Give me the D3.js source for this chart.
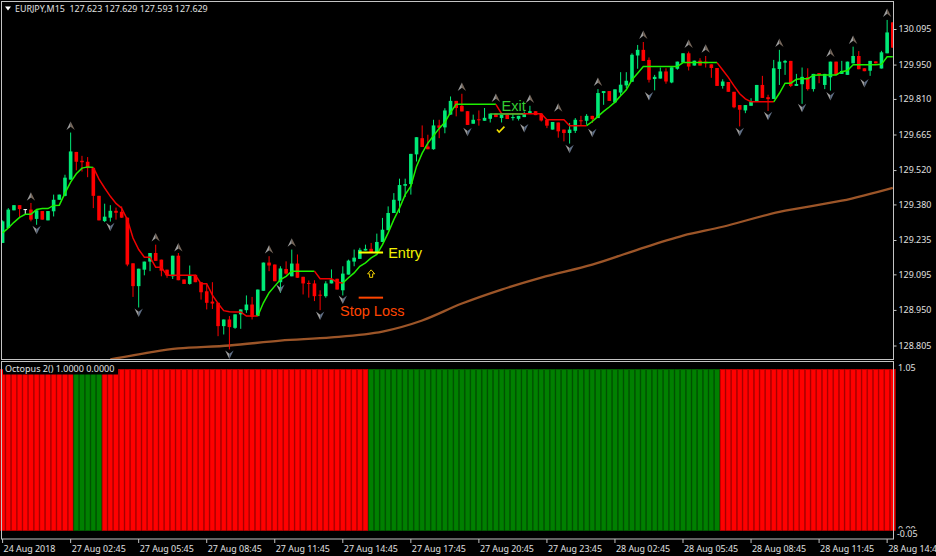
<!DOCTYPE html>
<html>
<head>
	<script src="https://d3js.org/d3.v7.min.js"></script>
	<style>
		html, body { margin: 0; padding: 0; background: #000; overflow: hidden; }
		text { font-family: "Noto Sans", sans-serif; white-space: pre; }
		.note { font-family: "Liberation Sans", sans-serif; }
	</style>
</head>
<body>
	<div class="CHANGE"></div>
	<script>
		var w = 936, h = 556;

		var opens = [129.223,129.284,129.356,129.377,129.361,129.359,129.321,129.353,129.315,129.352,129.399,129.415,129.481,129.594,129.558,129.554,129.528,129.415,129.312,129.326,
			129.354,129.350,129.326,129.140,129.047,129.114,129.147,129.182,129.155,129.114,129.087,129.171,129.074,129.056,129.093,129.063,129.026,128.984,128.979,128.884,
			128.911,128.877,128.932,128.949,128.972,128.925,129.028,129.143,129.135,129.063,129.117,129.087,129.139,129.085,129.060,129.058,129.012,129.006,129.058,129.077,
			129.030,129.094,129.147,129.158,129.192,129.199,129.182,129.227,129.275,129.345,129.395,129.456,129.463,129.584,129.650,129.616,129.605,129.702,129.694,129.746,
			129.802,129.782,129.760,129.709,129.727,129.721,129.729,129.750,129.732,129.746,129.733,129.729,129.736,129.750,129.760,129.750,129.725,129.685,129.714,129.685,
			129.671,129.680,129.723,129.721,129.741,129.732,129.834,129.842,129.796,129.836,129.865,129.880,129.987,130.010,129.969,129.891,129.893,129.922,129.877,129.933,
			129.958,129.996,129.946,129.966,129.962,129.951,129.936,129.863,129.879,129.839,129.785,129.763,129.782,129.801,129.867,129.817,129.810,129.932,129.958,129.965,
			129.863,129.870,129.898,129.850,129.915,129.867,129.898,129.962,129.912,129.908,129.955,129.985,129.935,129.925,129.963,129.934,129.996,130.122];
		var highs = [129.315,129.365,129.377,129.377,129.361,129.386,129.356,129.353,129.353,129.420,129.420,129.501,129.673,129.594,129.578,129.573,129.528,129.415,129.383,129.377,
			129.367,129.372,129.326,129.140,129.118,129.147,129.182,129.216,129.155,129.114,129.171,129.182,129.074,129.131,129.093,129.063,129.053,129.063,128.979,128.911,
			128.925,128.932,128.952,129.009,129.003,129.033,129.143,129.169,129.135,129.128,129.148,129.196,129.176,129.085,129.070,129.071,129.030,129.067,129.115,129.077,
			129.128,129.155,129.196,129.203,129.216,129.223,129.261,129.325,129.372,129.426,129.485,129.485,129.586,129.654,129.702,129.664,129.725,129.725,129.772,129.820,
			129.802,129.831,129.760,129.746,129.763,129.773,129.750,129.750,129.746,129.746,129.750,129.741,129.759,129.782,129.760,129.750,129.725,129.716,129.714,129.685,
			129.712,129.732,129.741,129.748,129.741,129.850,129.842,129.842,129.849,129.919,129.919,129.996,130.030,130.042,129.979,129.908,129.938,129.935,129.939,129.962,
			129.996,130.003,129.966,129.976,129.985,129.951,129.936,129.890,129.879,129.839,129.785,129.785,129.813,129.867,129.904,129.827,129.969,130.010,129.969,129.965,
			129.912,129.938,129.935,129.912,129.915,129.912,129.962,129.962,129.965,129.962,130.023,130.005,129.935,129.965,129.963,130.006,130.132,130.122];
		var lows = [129.223,129.284,129.356,129.329,129.338,129.311,129.297,129.318,129.315,129.331,129.399,129.413,129.481,129.519,129.514,129.491,129.365,129.315,129.308,129.310,
			129.318,129.325,129.128,129.003,128.960,129.091,129.108,129.150,129.087,129.081,129.076,129.071,129.056,129.053,129.063,128.992,128.952,128.954,128.843,128.850,
			128.789,128.873,128.873,128.938,128.911,128.925,129.028,129.108,129.067,129.020,129.094,129.087,129.081,129.013,129.000,128.986,128.949,129.000,129.058,129.033,
			129.009,129.094,129.128,129.158,129.192,129.182,129.182,129.227,129.275,129.345,129.345,129.410,129.420,129.555,129.614,129.605,129.603,129.650,129.670,129.746,
			129.739,129.759,129.704,129.709,129.701,129.721,129.714,129.736,129.714,129.728,129.722,129.722,129.736,129.750,129.744,129.718,129.691,129.685,129.652,129.637,
			129.628,129.671,129.701,129.705,129.712,129.732,129.786,129.802,129.793,129.823,129.854,129.880,129.933,129.965,129.877,129.845,129.893,129.872,129.874,129.929,
			129.958,129.926,129.946,129.946,129.938,129.896,129.863,129.852,129.839,129.772,129.698,129.752,129.782,129.801,129.814,129.761,129.810,129.867,129.908,129.858,
			129.863,129.790,129.844,129.840,129.874,129.850,129.844,129.908,129.912,129.908,129.955,129.931,129.923,129.904,129.955,129.934,129.996,130.019];
		var closes = [129.311,129.359,129.377,129.361,129.361,129.318,129.356,129.318,129.353,129.399,129.420,129.489,129.596,129.554,129.552,129.528,129.415,129.315,129.330,129.354,
			129.346,129.326,129.135,129.047,129.118,129.147,129.182,129.150,129.110,129.091,129.171,129.071,129.056,129.091,129.063,129.022,128.979,128.976,128.884,128.911,
			128.880,128.932,128.952,128.972,128.922,129.033,129.143,129.131,129.067,129.119,129.098,129.139,129.081,129.058,129.059,129.006,129.009,129.058,129.074,129.033,
			129.098,129.151,129.163,129.195,129.199,129.182,129.227,129.277,129.345,129.399,129.459,129.463,129.586,129.654,129.614,129.605,129.702,129.692,129.763,129.802,
			129.773,129.759,129.704,129.725,129.725,129.733,129.750,129.736,129.746,129.728,129.736,129.741,129.750,129.760,129.744,129.722,129.701,129.716,129.678,129.671,
			129.685,129.725,129.720,129.741,129.728,129.834,129.842,129.802,129.849,129.868,129.884,129.990,130.010,129.965,129.888,129.900,129.922,129.881,129.939,129.962,
			129.996,129.942,129.966,129.946,129.955,129.936,129.863,129.881,129.839,129.776,129.766,129.785,129.798,129.867,129.814,129.809,129.935,129.962,129.965,129.863,
			129.871,129.900,129.850,129.912,129.907,129.912,129.962,129.908,129.924,129.962,129.985,129.931,129.923,129.965,129.955,130.000,130.081,130.019];

		// trailing line, one value per bar
		var trendLine = [129.264,129.284,129.307,129.327,129.340,129.340,129.359,129.363,129.363,129.376,129.377,129.426,129.471,129.505,129.528,129.533,129.531,129.483,129.447,129.413,
			129.384,129.365,129.318,129.243,129.196,129.165,129.165,129.124,129.124,129.091,129.091,129.091,129.091,129.091,129.091,129.057,129.057,129.010,128.976,128.947,
			128.943,128.942,128.942,128.925,128.925,128.925,128.979,129.020,129.047,129.074,129.087,129.108,129.108,129.108,129.108,129.108,129.077,129.077,129.077,129.063,
			129.060,129.081,129.101,129.128,129.142,129.162,129.176,129.216,129.264,129.318,129.365,129.420,129.454,129.535,129.589,129.630,129.660,129.690,129.715,129.755,
			129.788,129.788,129.788,129.788,129.788,129.788,129.788,129.788,129.750,129.750,129.750,129.750,129.750,129.750,129.750,129.750,129.725,129.725,129.725,129.725,
			129.701,129.701,129.701,129.701,129.718,129.739,129.759,129.777,129.797,129.823,129.847,129.888,129.915,129.942,129.942,129.942,129.942,129.942,129.942,129.942,
			129.958,129.958,129.958,129.958,129.958,129.958,129.958,129.928,129.898,129.863,129.831,129.810,129.798,129.798,129.798,129.798,129.798,129.833,129.874,129.874,
			129.890,129.892,129.892,129.907,129.908,129.908,129.908,129.908,129.921,129.926,129.949,129.949,129.949,129.949,129.949,129.951,129.982,129.982];
		var trendStarts = [0,16,45,55,60,87,103,126,136];
		var trendColors = ["#1eef00","#f00000","#1eef00","#f00000","#1eef00","#f00000","#1eef00","#f00000","#1eef00"];

		// slow moving average
		var maBars = [19,26,31,40,49,58,67,74,81,88,95,104,111,120,127,137,148,157];
		var maValues = [128.748,128.777,128.793,128.805,128.825,128.838,128.862,128.907,128.976,129.033,129.082,129.135,129.188,129.253,129.289,129.350,129.395,129.448];

		// fractal arrows
		var upBars = [5,12,27,31,47,51,81,87,93,98,105,113,121,124,137,146,150,156];
		var upPrices = [129.411,129.700,129.245,129.204,129.196,129.224,129.859,129.814,129.810,129.774,129.879,130.071,130.034,130.014,130.038,129.997,130.050,130.160];
		var downBars = [6,19,24,40,49,56,60,82,92,100,104,114,130,135,141,146,152];
		var downPrices = [129.277,129.289,128.939,128.768,129.037,128.927,128.992,129.676,129.692,129.607,129.672,129.822,129.676,129.741,129.774,129.822,129.875];

		// Octopus histogram: runs of bars per state
		var histRuns = [13,5,47,62,31];
		var histRunColors = ["#ff0000","#008000","#ff0000","#008000","#ff0000"];
		var histRunEdges = ["#c40000","#006000","#c40000","#006000","#c40000"];

		var priceTicks = [130.095,129.950,129.810,129.665,129.520,129.380,129.235,129.095,128.950,128.805];
		var timeTickBars = [0,12,24,36,48,60,72,84,96,108,120,132,144,156];
		var timeLabels = ["24 Aug 2018","27 Aug 02:45","27 Aug 05:45","27 Aug 08:45","27 Aug 11:45","27 Aug 14:45","27 Aug 17:45","27 Aug 20:45","27 Aug 23:45","28 Aug 02:45","28 Aug 05:45","28 Aug 08:45","28 Aug 11:45","28 Aug 14:45"];

		var svg = d3.select(".CHANGE")
			.append("svg")
			.attr("width", w)
			.attr("height", h)
			.style("display", "block")
			.style("background", "#000");

		var x = d3.scaleLinear().domain([0, 157]).range([2.6, 892.8]);
		var y = d3.scaleLinear().domain([128.805, 130.095]).range([345.5, 29]);
		var yHist = d3.scaleLinear().domain([-0.05, 1.05]).range([538.5, 361.4]);

		var defs = svg.append("defs");
		defs.append("clipPath").attr("id", "mainClip").append("rect")
			.attr("x", 2).attr("y", 2).attr("width", 891).attr("height", 357);

		var main = svg.append("g").attr("clip-path", "url(#mainClip)");

		// slow MA goes under everything
		main.append("path")
			.datum(maBars)
			.attr("fill", "none")
			.attr("stroke", "#9c5528")
			.attr("stroke-width", 2.3)
			.attr("d", d3.line().curve(d3.curveCatmullRom).x(function(d) { return x(d); }).y(function(d, i) { return y(maValues[i]); }));

		var bars = d3.range(opens.length);
		var candleColor = function(i) {
			if (closes[i] === opens[i] || i === 4) return "#ffffff";
			return closes[i] > opens[i] ? "#00ea78" : "#ff0000";
		};

		main.selectAll("line.wick")
			.data(bars)
			.enter()
			.append("line")
			.attr("class", "wick")
			.attr("x1", function(i) { return x(i); })
			.attr("x2", function(i) { return x(i); })
			.attr("y1", function(i) { return y(highs[i]); })
			.attr("y2", function(i) { return y(lows[i]); })
			.attr("stroke", candleColor)
			.attr("stroke-width", 1);

		main.selectAll("rect.body")
			.data(bars)
			.enter()
			.append("rect")
			.attr("class", "body")
			.attr("x", function(i) { return x(i) - 1.8; })
			.attr("width", 3.6)
			.attr("y", function(i) { return y(Math.max(opens[i], closes[i])); })
			.attr("height", function(i) { return Math.max(1, Math.abs(y(opens[i]) - y(closes[i]))); })
			.attr("fill", candleColor);

		// trailing line, one path per colour run
		var trendPath = d3.line().x(function(d) { return x(d); }).y(function(d) { return y(trendLine[d]); });
		trendStarts.forEach(function(start, k) {
			var end = k + 1 < trendStarts.length ? trendStarts[k + 1] : trendLine.length - 1;
			main.append("path")
				.datum(d3.range(start, end + 1))
				.attr("fill", "none")
				.attr("stroke", trendColors[k])
				.attr("stroke-width", 1.5)
				.attr("d", trendPath);
		});

		// fractal arrows, two halves with a deep notch
		function arrow(sel, dir, leftCol, rightCol) {
			sel.append("path").attr("d", "M0," + (-4.5 * dir) + "L-4.2," + (4 * dir) + "L0," + (0.8 * dir) + "Z").attr("fill", leftCol);
			sel.append("path").attr("d", "M0," + (-4.5 * dir) + "L4.2," + (4 * dir) + "L0," + (0.8 * dir) + "Z").attr("fill", rightCol);
		}
		main.selectAll("g.up")
			.data(upBars)
			.enter()
			.append("g")
			.attr("class", "up")
			.attr("transform", function(d, i) { return "translate(" + x(d) + "," + y(upPrices[i]) + ")"; })
			.call(arrow, 1, "#9c9c9c", "#76675b");
		main.selectAll("g.down")
			.data(downBars)
			.enter()
			.append("g")
			.attr("class", "down")
			.attr("transform", function(d, i) { return "translate(" + x(d) + "," + y(downPrices[i]) + ")"; })
			.call(arrow, -1, "#9c9c9c", "#5f6e85");

		// annotations
		var entryBars = [62.8, 67.1], entryPrice = 129.184;
		var stopPrice = 129.000;
		var exitBars = [86, 91.8], exitPrice = 129.749;

		main.append("line").attr("x1", x(entryBars[0])).attr("x2", x(entryBars[1]))
			.attr("y1", y(entryPrice)).attr("y2", y(entryPrice))
			.attr("stroke", "#ffff00").attr("stroke-width", 2);
		main.append("text").attr("class", "note").attr("x", x(68)).attr("y", y(entryPrice) + 5)
			.attr("fill", "#f2f200").attr("font-size", 14.5).text("Entry");
		main.append("line").attr("x1", x(entryBars[0])).attr("x2", x(entryBars[1]))
			.attr("y1", y(stopPrice)).attr("y2", y(stopPrice))
			.attr("stroke", "#ff4500").attr("stroke-width", 2);
		main.append("text").attr("class", "note").attr("x", x(59.5)).attr("y", y(stopPrice) + 18)
			.attr("fill", "#ff4500").attr("font-size", 14.5).text("Stop Loss");
		main.append("line").attr("x1", x(exitBars[0])).attr("x2", x(exitBars[1]))
			.attr("y1", y(exitPrice)).attr("y2", y(exitPrice))
			.attr("stroke", "#32cd32").attr("stroke-width", 1.5);
		main.append("text").attr("class", "note").attr("x", x(88)).attr("y", y(exitPrice) - 2.5)
			.attr("fill", "#32cd32").attr("font-size", 14.5).text("Exit");

		// small outlined arrow and tick mark
		main.append("path")
			.attr("transform", "translate(" + x(65) + "," + y(129.097) + ")")
			.attr("d", "M0,-4L3.5,0L1.5,0L1.5,3.5L-1.5,3.5L-1.5,0L-3.5,0Z")
			.attr("fill", "none").attr("stroke", "#f2d000").attr("stroke-width", 1);
		main.append("path")
			.attr("transform", "translate(" + x(87.8) + "," + y(129.685) + ")")
			.attr("d", "M-3.5,0L-1.3,2.5L4,-3")
			.attr("fill", "none").attr("stroke", "#f2e000").attr("stroke-width", 1.6);

		// histogram pane
		var histColors = [], histEdges = [];
		histRuns.forEach(function(n, k) {
			for (var j = 0; j < n; j++) {
				histColors.push(histRunColors[k]);
				histEdges.push(histRunEdges[k]);
			}
		});
		svg.selectAll("rect.hist")
			.data(histColors)
			.enter()
			.append("rect")
			.attr("class", "hist")
			.attr("x", function(d, i) { return x(i) - 2.45; })
			.attr("width", 4.9)
			.attr("y", yHist(1))
			.attr("height", yHist(0) - yHist(1))
			.attr("fill", function(d) { return d; })
			.attr("stroke", function(d, i) { return histEdges[i]; })
			.attr("stroke-width", 0.8);

		svg.append("rect").attr("x", 3).attr("y", 362.5).attr("width", 115).attr("height", 12).attr("fill", "#000");
		svg.append("text").attr("x", 5).attr("y", 372).attr("fill", "#e0e0e0").attr("font-size", 9)
			.text("Octopus 2() 1.0000 0.0000");

		// chart header
		svg.append("path").attr("d", "M5,6.5L11,6.5L8,10.5Z").attr("fill", "#fff");
		svg.append("text").attr("x", 15).attr("y", 12).attr("fill", "#e0e0e0").attr("font-size", 8.9)
			.text("EURJPY,M15  127.623 127.629 127.593 127.629");

		// frames
		var frameColor = "#c4c4c4";
		svg.append("rect").attr("x", 1.5).attr("y", 1.5).attr("width", 892).attr("height", 358)
			.attr("fill", "none").attr("stroke", frameColor);
		svg.append("rect").attr("x", 1.5).attr("y", 361.5).attr("width", 892).attr("height", 177.5)
			.attr("fill", "none").attr("stroke", frameColor);

		// axes
		var priceAxis = d3.axisRight(y).tickValues(priceTicks).tickSize(3).tickPadding(2)
			.tickFormat(function(d) { return d.toFixed(3); });
		var gPrice = svg.append("g").attr("transform", "translate(893.5,0)").call(priceAxis);
		var timeAxis = d3.axisBottom(x).tickValues(timeTickBars).tickSize(4).tickPadding(3)
			.tickFormat(function(d, i) { return timeLabels[i]; });
		var gTime = svg.append("g").attr("transform", "translate(-0.5,539)").call(timeAxis);
		gTime.selectAll("text").attr("text-anchor", "start").attr("dx", 1);

		[gPrice, gTime].forEach(function(g) {
			g.select(".domain").remove();
			g.selectAll("line").attr("stroke", frameColor);
			g.selectAll("text").attr("fill", "#e0e0e0").attr("font-size", 8.9).attr("font-family", '"Noto Sans", sans-serif');
		});

		// histogram scale labels; 0.00 sits mostly behind -0.05
		svg.append("text").attr("x", 898).attr("y", yHist(1.05) + 10).attr("fill", "#e0e0e0").attr("font-size", 8.9).text("1.05");
		svg.append("text").attr("x", 898).attr("y", yHist(0) + 3).attr("fill", "#e0e0e0").attr("font-size", 8.9).text("0.00");
		svg.append("rect").attr("x", 896).attr("y", 528.5).attr("width", 38).attr("height", 10).attr("fill", "#000");
		svg.append("text").attr("x", 897).attr("y", yHist(-0.05) - 2).attr("fill", "#e0e0e0").attr("font-size", 8.9).text("-0.05");
	</script>
</body>
</html>
